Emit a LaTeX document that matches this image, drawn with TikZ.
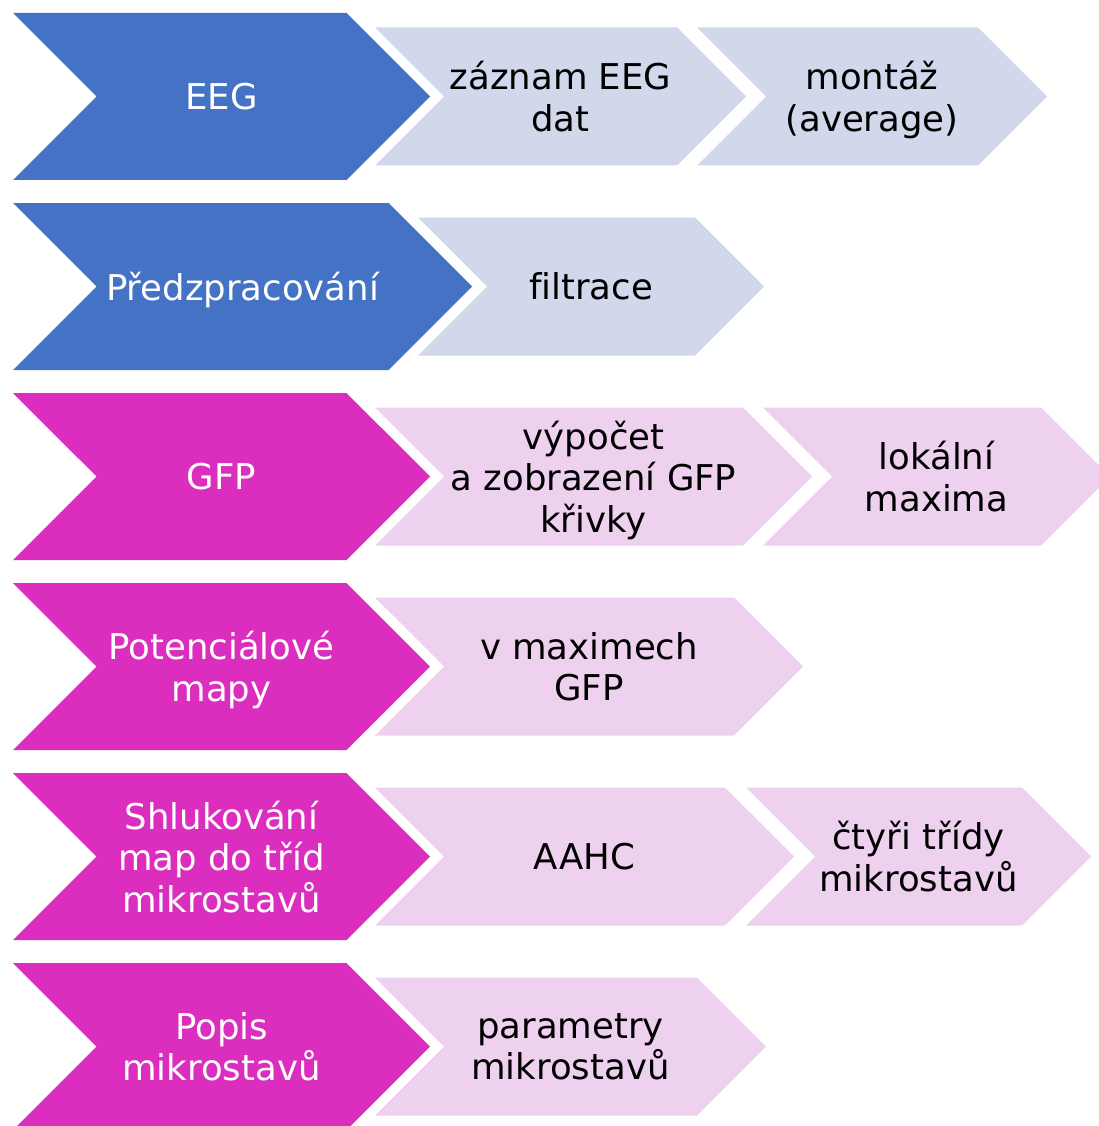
\documentclass[tikz,border=0pt]{standalone}
\usepackage{fontspec}
\setmainfont[Ligatures=NoCommon]{DejaVu Sans}
\usetikzlibrary{shapes.symbols}
\definecolor{eegblue}{HTML}{4472C4}
\definecolor{eeglight}{HTML}{D1D8EB}
\definecolor{msmagenta}{HTML}{DB2EBE}
\definecolor{mslight}{HTML}{EED1EE}
\tikzset{
  chevron/.style={signal, signal to=east, signal from=west, signal pointer angle=90, inner sep=0pt, align=center, text depth=0pt, font=\fontsize{35.5pt}{41.5pt}\selectfont},
  phase/.style={chevron, minimum height=167pt, minimum width=417pt, text=white},
  task/.style={chevron, minimum height=138pt, text=black},
  bluephase/.style={phase, fill=eegblue},
  bluetask/.style={task, fill=eeglight},
  pinkphase/.style={phase, fill=msmagenta},
  pinktask/.style={task, fill=mslight}
}
\begin{document}
\begin{tikzpicture}[x=1pt, y=-1pt]
  \useasboundingbox (0,0) rectangle (1098,1126);

  % zaznam
  \node[bluephase] (eeg) at (221.5,96.5) {EEG};
  \node[bluetask, minimum width=371pt] (zaznam) at (560.5,96.5) {záznam EEG\\dat};
  \node[bluetask, minimum width=350pt] (montaz) at (872,96.5) {montáž\\(average)};

  % predzpracovani
  \node[bluephase, minimum width=459pt] (predzp) at (242.5,286.5) {Předzpracování};
  \node[bluetask, minimum width=346pt] (filtrace) at (591,286.5) {filtrace};

  % mikrostavy
  \node[pinkphase] (gfp) at (221.5,476.5) {GFP};
  \node[pinktask, minimum width=437pt] (vypocet) at (593.5,476.5) {výpočet\\a zobrazení GFP\\křivky};
  \node[pinktask, minimum width=347pt] (maxima) at (936.5,476.5) {lokální\\maxima};

  \node[pinkphase] (mapy) at (221.5,666.5) {Potenciálové\\mapy};
  \node[pinktask, minimum width=428pt] (vmax) at (589,666.5) {v maximech\\GFP};

  \node[pinkphase] (shluk) at (221.5,856.5) {Shlukování\\map do tříd\\mikrostavů};
  \node[pinktask, minimum width=419pt] (aahc) at (584.5,856.5) {AAHC};
  \node[pinktask, minimum width=345pt] (tridy) at (918.5,856.5) {čtyři třídy\\mikrostavů};

  \node[pinkphase] (popis) at (221.5,1046.5) {Popis\\mikrostavů};
  \node[pinktask, minimum width=391pt] (param) at (570.5,1046.5) {parametry\\mikrostavů};
\end{tikzpicture}
\end{document}
